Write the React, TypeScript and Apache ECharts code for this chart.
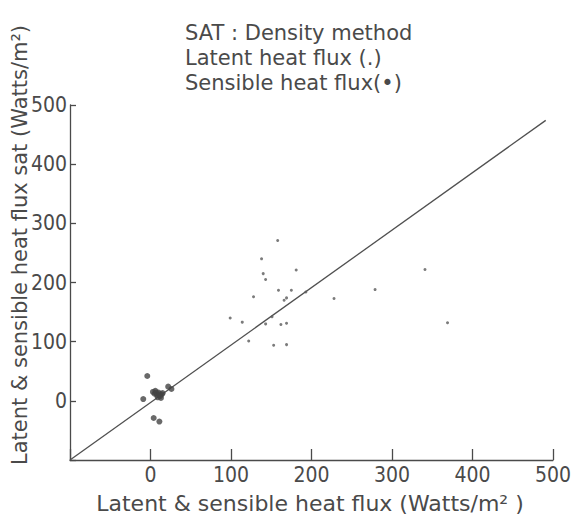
import React, { useEffect, useRef } from "react";
import * as echarts from "echarts";

const xTicks = [-100, 0, 100, 200, 300, 400, 500];
const yTicks = [-100, 0, 100, 200, 300, 400, 500];

const latentPoints = [
  [158, 271], [138, 240], [140, 215], [143, 205], [181, 221], [341, 222],
  [159, 187], [175, 187], [128, 176], [169, 174], [166, 170], [193, 184],
  [228, 173], [279, 188], [99, 140], [114, 133], [151, 142], [143, 130],
  [162, 129], [169, 131], [369, 132], [122, 101], [153, 94], [169, 95],
];

const sensiblePoints = [
  [-4, 42], [22, 24], [26, 20], [-9, 3], [4, -29], [11, -35],
  [3, 15], [5, 12], [8, 10], [10, 14], [12, 8], [14, 11], [6, 17],
  [9, 6], [15, 13], [13, 5], [7, 14], [11, 11],
];

const oneToOneLine = [[-100, -100], [491, 474]];

const titleLines = ["SAT : Density method", "Latent heat flux (.)", "Sensible heat flux(•)"];
const xTitle = "Latent & sensible heat flux (Watts/m² )";
const yTitle = "Latent & sensible heat flux sat (Watts/m²)";

const FONT = "'DejaVu Sans Condensed', 'DejaVu Sans', sans-serif";
const FONT_WIDE = "'DejaVu Sans', sans-serif";
const INK = "#4a4a4a";

export default function App() {
  const ref = useRef<HTMLDivElement>(null);
  useEffect(() => {
    if (!ref.current) return;
    const chart = echarts.init(ref.current, undefined, { renderer: "svg" });
    chart.setOption({
      animation: false,
      backgroundColor: "#ffffff",
      grid: { left: 70, right: 14, top: 105, bottom: 57 },
      xAxis: {
        type: "value",
        min: xTicks[0],
        max: xTicks[xTicks.length - 1],
        interval: 100,
        axisLine: { show: true, onZero: false, lineStyle: { color: INK, width: 1.3 } },
        axisTick: { show: true, inside: true, length: 11, lineStyle: { color: INK, width: 1.3 } },
        axisLabel: {
          color: INK, fontFamily: FONT, fontSize: 21, margin: 4,
          formatter: (v: number) => (v === -100 ? "" : String(v)),
        },
        splitLine: { show: false },
      },
      yAxis: {
        type: "value",
        min: yTicks[0],
        max: yTicks[yTicks.length - 1],
        interval: 100,
        axisLine: { show: true, onZero: false, lineStyle: { color: INK, width: 1.3 } },
        axisTick: { show: true, inside: true, length: 6, lineStyle: { color: INK, width: 1.3 } },
        axisLabel: {
          color: INK, fontFamily: FONT, fontSize: 21, margin: 3,
          formatter: (v: number) => (v === -100 ? "" : String(v)),
        },
        splitLine: { show: false },
      },
      series: [
        {
          type: "line",
          data: oneToOneLine,
          symbol: "none",
          lineStyle: { color: "#505050", width: 1.3 },
          z: 1,
        },
        {
          type: "scatter",
          data: latentPoints,
          symbolSize: 3,
          itemStyle: { color: "#5a5a5a" },
          z: 2,
        },
        {
          type: "scatter",
          data: sensiblePoints,
          symbolSize: 6,
          itemStyle: { color: "#444444" },
          z: 3,
        },
      ],
      graphic: [
        ...titleLines.map((t, i) => ({
          type: "text",
          left: 185,
          top: 22 + i * 25,
          style: { text: t, fill: INK, font: `21px ${FONT_WIDE}` },
        })),
        {
          type: "text",
          x: 310,
          y: 503,
          style: { text: xTitle, fill: INK, font: `22px ${FONT_WIDE}`, align: "center", verticalAlign: "middle" },
        },
        {
          type: "text",
          x: 20,
          y: 245,
          rotation: Math.PI / 2,
          style: { text: yTitle, fill: INK, font: `21px ${FONT_WIDE}`, align: "center", verticalAlign: "middle" },
        },
      ],
    });
    return () => chart.dispose();
  }, []);
  return <div ref={ref} style={{ width: 574, height: 517, position: "absolute", left: 0, top: 0 }} />;
}
